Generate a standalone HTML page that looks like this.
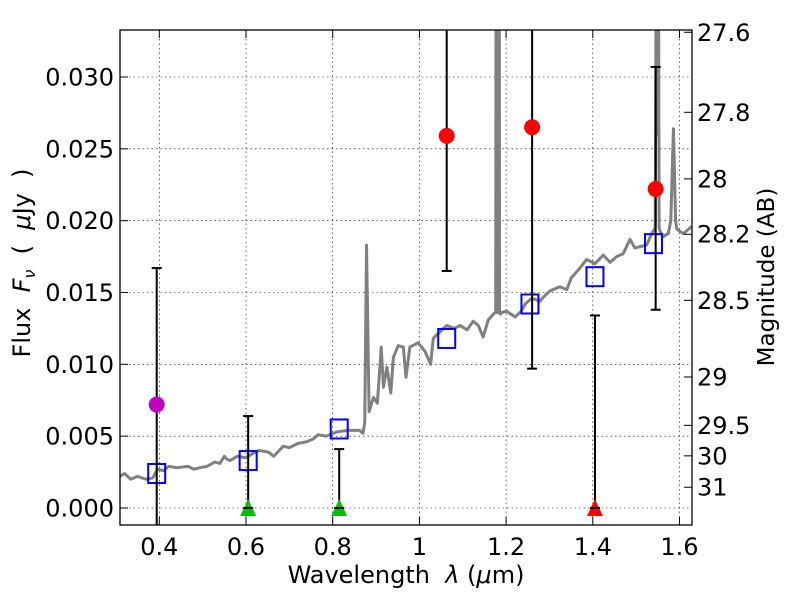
<!DOCTYPE html>
<html><head><meta charset="utf-8"><style>html,body{margin:0;padding:0;background:#fff;width:800px;height:600px;overflow:hidden}svg{position:absolute;left:0;top:0;display:block;font-family:"DejaVu Sans","Liberation Sans",sans-serif}text{white-space:pre}</style></head>
<body>
<svg id="chart" width="800" height="600">
<defs><clipPath id="pc"><rect x="120" y="30" width="572" height="495"/></clipPath></defs>
<g id="grid"></g>
<g id="spec" clip-path="url(#pc)"></g>
<g id="marks" clip-path="url(#pc)"></g>
<rect x="120" y="30" width="572" height="495" fill="none" stroke="#000" stroke-width="1.3"/>
<g id="axes"></g>
<text x="406" y="583" font-size="24" text-anchor="middle">Wavelength  <tspan font-style="italic">λ</tspan> (<tspan font-style="italic">μ</tspan>m)</text>
<text transform="translate(30,263) rotate(-90)" font-size="24" text-anchor="middle">Flux  <tspan font-style="italic">F</tspan><tspan font-style="italic" font-size="16" dy="5">ν</tspan><tspan dy="-5">  (  </tspan><tspan font-style="italic">μ</tspan>Jy  )</text>
<text transform="translate(774,277) rotate(-90)" font-size="23" text-anchor="middle">Magnitude (AB)</text>
</svg>
<script>
const specWave=[0.309,0.320,0.334,0.350,0.369,0.385,0.396,0.410,0.422,0.440,0.466,0.480,0.493,0.510,0.528,0.540,0.550,0.556,0.563,0.580,0.600,0.616,0.630,0.651,0.664,0.686,0.700,0.720,0.739,0.755,0.766,0.785,0.810,0.835,0.862,0.870,0.874,0.878,0.884,0.894,0.903,0.912,0.917,0.925,0.934,0.940,0.951,0.963,0.969,0.978,0.997,1.013,1.026,1.032,1.045,1.063,1.080,1.094,1.110,1.124,1.136,1.147,1.159,1.174,1.176,1.177,1.178,1.181,1.183,1.184,1.185,1.187,1.190,1.201,1.221,1.235,1.244,1.259,1.278,1.290,1.301,1.324,1.340,1.350,1.370,1.386,1.405,1.424,1.440,1.455,1.470,1.486,1.497,1.510,1.524,1.536,1.544,1.547,1.549,1.551,1.553,1.556,1.563,1.574,1.580,1.586,1.591,1.594,1.609,1.628];
const specFlux=[0.0022,0.0024,0.0020,0.0022,0.0020,0.0021,0.0027,0.0026,0.0029,0.0028,0.0029,0.0027,0.0028,0.0029,0.0032,0.0031,0.0036,0.0034,0.0033,0.0036,0.0035,0.0038,0.0040,0.0039,0.0036,0.0043,0.0042,0.0045,0.0046,0.0048,0.0051,0.0050,0.0053,0.0054,0.0054,0.0052,0.0060,0.0183,0.0067,0.0077,0.0073,0.0112,0.0084,0.0098,0.0080,0.0105,0.0113,0.0112,0.0091,0.0112,0.0115,0.0109,0.0100,0.0118,0.0122,0.0127,0.0125,0.0127,0.0124,0.0130,0.0127,0.0119,0.0131,0.0136,0.0136,0.045,0.0136,0.0136,0.0136,0.045,0.0136,0.0135,0.0136,0.0137,0.0133,0.0137,0.0142,0.0146,0.0144,0.0148,0.0151,0.0154,0.0152,0.0160,0.0167,0.0173,0.0170,0.0176,0.0171,0.0175,0.0177,0.0187,0.0181,0.0182,0.0183,0.0191,0.0195,0.045,0.026,0.045,0.0195,0.0192,0.0189,0.0191,0.0200,0.0264,0.0200,0.0194,0.0191,0.0196];
const modelWave=[0.394,0.605,0.815,1.063,1.255,1.405,1.540];
const modelFlux=[0.0024,0.0033,0.0055,0.0118,0.0142,0.0161,0.0184];
const detWave=[0.394,1.063,1.260,1.545];
const detFlux=[0.0072,0.0259,0.0265,0.0222];
const detLo=[-0.01,0.0165,0.0097,0.0138];
const detHi=[0.0167,0.05,0.05,0.0307];
const detColor=["#bf00bf","#ff0000","#ff0000","#ff0000"];
const ulWave=[0.605,0.815,1.405];
const ulTop=[0.0064,0.0041,0.0134];
const ulColor=["#00bf00","#00bf00","#ff0000"];
const xTicks=[0.4,0.6,0.8,1.0,1.2,1.4,1.6];
const xTickLabels=["0.4","0.6","0.8","1","1.2","1.4","1.6"];
const yTicks=[0,0.005,0.010,0.015,0.020,0.025,0.030];
const yTickLabels=["0.000","0.005","0.010","0.015","0.020","0.025","0.030"];
const magTicks=[27.6,27.8,28,28.2,28.5,29,29.5,30,31];
const magTickLabels=["27.6","27.8","28","28.2","28.5","29","29.5","30","31"];

const NS="http://www.w3.org/2000/svg";
const X=v=>159.3+(v-0.4)*433.5;
const Y=v=>508-v*14367;
function mk(p,t,a){const e=document.createElementNS(NS,t);for(const k in a)e.setAttribute(k,a[k]);p.appendChild(e);return e;}
const grid=document.getElementById('grid'),axes=document.getElementById('axes'),spec=document.getElementById('spec'),marks=document.getElementById('marks');
xTicks.forEach((t,i)=>{
  const l=mk(grid,'line',{x1:X(t),x2:X(t),y1:30,y2:525,stroke:'#000','stroke-width':0.6,'stroke-dasharray':'1.5,3'});
  
  
  mk(axes,'line',{x1:X(t),x2:X(t),y1:525,y2:517,stroke:'#000'});
  mk(axes,'line',{x1:X(t),x2:X(t),y1:30,y2:38,stroke:'#000'});
  const tx=mk(axes,'text',{x:X(t),y:555,'font-size':24,'text-anchor':'middle'});tx.textContent=xTickLabels[i];
  
  
});
yTicks.forEach((t,i)=>{
  const l=mk(grid,'line',{x1:120,x2:692,y1:Y(t),y2:Y(t),stroke:'#000','stroke-width':0.6,'stroke-dasharray':'1.5,3'});
  
  
  mk(axes,'line',{x1:120,x2:128,y1:Y(t),y2:Y(t),stroke:'#000'});
  const tx=mk(axes,'text',{x:114,y:Y(t)+8.5,'font-size':24,'text-anchor':'end'});tx.textContent=yTickLabels[i];
  
  
});
magTicks.forEach((m,i)=>{
  const y=Y(Math.pow(10,(23.9-m)/2.5));
  mk(axes,'line',{x1:684,x2:692,y1:y,y2:y,stroke:'#000'});
  const tx=mk(axes,'text',{x:697,y:y+8.5,'font-size':24});tx.textContent=magTickLabels[i];
  
  
});
const sp=mk(spec,'polyline',{points:specWave.map((w,i)=>X(w)+','+Y(specFlux[i])).join(' '),fill:'none',stroke:'#808080','stroke-width':3,'stroke-linejoin':'round'});


modelWave.forEach((w,i)=>{
  const r=mk(marks,'rect',{x:X(w)-8.5,y:Y(modelFlux[i])-9.5,width:17,height:19,fill:'none',stroke:'#0000ff','stroke-width':2});
  
  
});
ulWave.forEach((w,i)=>{
  mk(marks,'line',{x1:X(w),x2:X(w),y1:Y(0),y2:Y(ulTop[i]),stroke:'#000','stroke-width':2});
  mk(marks,'line',{x1:X(w)-5,x2:X(w)+5,y1:Y(ulTop[i]),y2:Y(ulTop[i]),stroke:'#000','stroke-width':2});
  const x=X(w),y=Y(0);
  const p=mk(marks,'polygon',{points:`${x},${y-9} ${x-8},${y+8} ${x+8},${y+8}`,fill:ulColor[i]});
  
  
  mk(marks,'line',{x1:x-5,x2:x+5,y1:y,y2:y,stroke:'#000','stroke-width':2});
});
detWave.forEach((w,i)=>{
  const x=X(w);
  mk(marks,'line',{x1:x,x2:x,y1:Y(detLo[i]),y2:Y(detHi[i]),stroke:'#000','stroke-width':2});
  mk(marks,'line',{x1:x-5,x2:x+5,y1:Y(detLo[i]),y2:Y(detLo[i]),stroke:'#000','stroke-width':2});
  mk(marks,'line',{x1:x-5,x2:x+5,y1:Y(detHi[i]),y2:Y(detHi[i]),stroke:'#000','stroke-width':2});
  const c=mk(marks,'circle',{cx:x,cy:Y(detFlux[i]),r:8,fill:detColor[i]});
  
  
});
</script>
</body></html>
